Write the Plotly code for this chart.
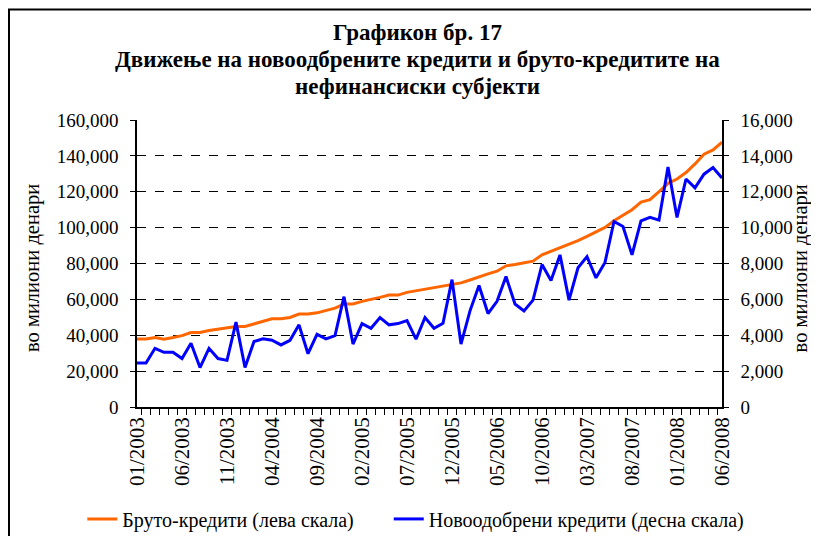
import plotly.graph_objects as go

months = [f"{m:02d}/{y}" for y in range(2003, 2009) for m in range(1, 13)][:66]

bruto = [37900, 37900, 38700, 37800, 38700, 39800, 41500, 41500, 42600, 43500,
         44300, 44900, 44900, 46200, 47700, 49200, 49200, 49900, 51800, 51800,
         52500, 53600, 55100, 57400, 57400, 58900, 59800, 61100, 62400, 62400,
         63900, 64800, 65600, 66500, 67300, 68200, 69200, 70800, 72700, 74200,
         75700, 78700, 79400, 80400, 81300, 84800, 86700, 88900, 90800, 92700,
         95100, 97600, 100100, 103800, 106800, 110000, 114200, 115600, 120000, 124700,
         127100, 130700, 135500, 140900, 143300, 147600]

novi = [2450, 2450, 3270, 3050, 3050, 2700, 3550, 2200, 3270, 2700,
        2600, 4730, 2200, 3650, 3800, 3720, 3460, 3720, 4580, 2970,
        4050, 3800, 3980, 6150, 3510, 4650, 4390, 4990, 4580, 4650,
        4820, 3780, 4990, 4390, 4670, 7100, 3510, 5360, 6770, 5210,
        5890, 7270, 5740, 5360, 5960, 7940, 7050, 8480, 5960, 7760,
        8380, 7200, 8060, 10340, 10060, 8480, 10380, 10570, 10420, 13380,
        10570, 12710, 12220, 12980, 13350, 12760]

tick_labels = [m if i % 5 == 0 else "" for i, m in enumerate(months)]

title_lines = ["Графикон бр. 17",
               "Движење на новоодбрените кредити и бруто-кредитите на",
               "нефинансиски субјекти"]
axis_title = "во милиони денари"
series_names = ["Бруто-кредити (лева скала)", "Новоодобрени кредити (десна скала)"]

FONT = "Liberation Serif"
GAP = "\u00a0" * 6

fig = go.Figure()
fig.add_trace(go.Scatter(x=months, y=bruto, name=series_names[0] + GAP,
                         mode="lines", line=dict(color="#FF6600", width=3)))
fig.add_trace(go.Scatter(x=months, y=novi, name=series_names[1],
                         mode="lines", line=dict(color="#0000FF", width=3), yaxis="y2"))

annotations = []
for line, yp in zip(title_lines, [1.3066, 1.2091, 1.115]):
    annotations.append(dict(text="<b>" + line + "</b>", x=0.4803, xref="paper", xanchor="center",
                            y=yp, yref="paper", yanchor="middle", showarrow=False,
                            font=dict(size=23, family=FONT, color="black")))
annotations.append(dict(text=axis_title, textangle=-90, x=-0.1795, xref="paper", xanchor="center",
                        y=0.4843, yref="paper", yanchor="middle", showarrow=False,
                        font=dict(size=20.5, family=FONT, color="black")))
annotations.append(dict(text=axis_title, textangle=-90, x=1.134, xref="paper", xanchor="center",
                        y=0.4843, yref="paper", yanchor="middle", showarrow=False,
                        font=dict(size=20.5, family=FONT, color="black")))

fig.update_layout(
    width=811, height=528,
    margin=dict(l=129, r=97, t=112, b=129, autoexpand=False),
    paper_bgcolor="white", plot_bgcolor="white",
    font=dict(family=FONT, size=19, color="black"),
    showlegend=True,
    legend=dict(orientation="h", x=-0.0935, xanchor="left", y=-0.39, yanchor="middle",
                font=dict(size=20), tracegroupgap=0, bgcolor="rgba(0,0,0,0)"),
    annotations=annotations,
    xaxis=dict(type="category", tickmode="array", tickvals=months, ticktext=tick_labels,
               tickangle=-90, tickson="boundaries", ticks="outside", ticklen=6,
               tickcolor="black", showline=True, linecolor="black", linewidth=1.5,
               showgrid=False, tickfont=dict(size=21), automargin=False),
    yaxis=dict(range=[0, 160000], dtick=20000, tickformat=",d", showline=True,
               linecolor="black", linewidth=1.5, ticks="outside", ticklen=5, tickcolor="black",
               showgrid=True, gridcolor="black", griddash="dash", gridwidth=1,
               zeroline=False, tickfont=dict(size=19), automargin=False,
               ticklabelstandoff=8),
    yaxis2=dict(range=[0, 16000], dtick=2000, tickformat=",d", overlaying="y", side="right",
                showline=True, linecolor="black", linewidth=1.5, ticks="outside", ticklen=5,
                tickcolor="black", showgrid=False, zeroline=False,
                tickfont=dict(size=19), automargin=False, ticklabelstandoff=8),
)

fig.add_shape(type="rect", xref="paper", yref="paper", x0=-0.2188, x1=1.2, y0=-0.5, y1=1.385,
              line=dict(color="black", width=2), fillcolor="rgba(0,0,0,0)", layer="below")

fig.write_html("out.html")
